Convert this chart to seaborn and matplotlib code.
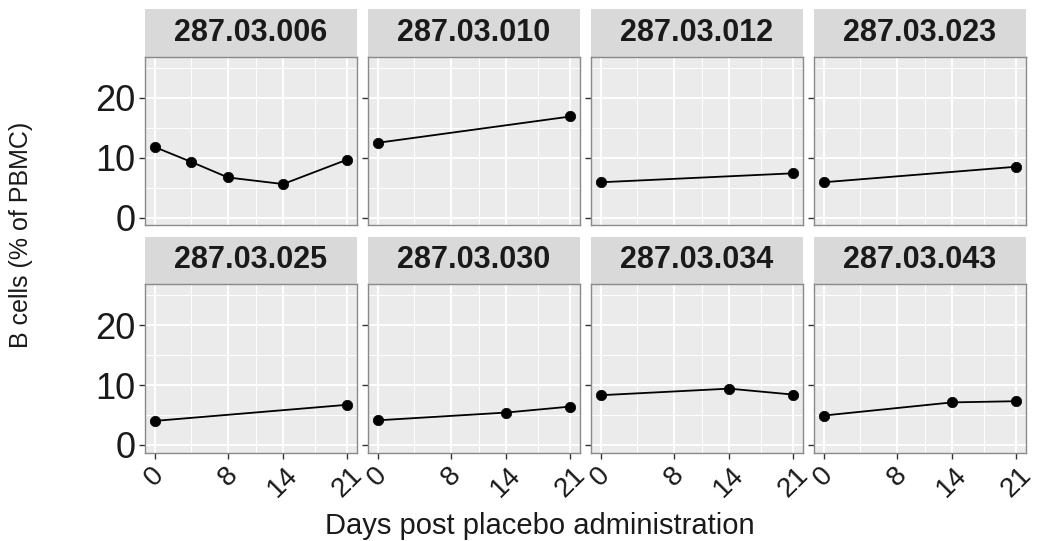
import matplotlib
matplotlib.use("Agg")
import matplotlib.pyplot as plt
from matplotlib.patches import Rectangle
import seaborn as sns
import pandas as pd

# ---- data ----
subjects = ["287.03.006", "287.03.010", "287.03.012", "287.03.023",
            "287.03.025", "287.03.030", "287.03.034", "287.03.043"]
day_006 = [0, 4, 8, 14, 21]
bcell_006 = [11.8, 9.3, 6.7, 5.6, 9.7]
day_010 = [0, 21]
bcell_010 = [12.5, 16.9]
day_012 = [0, 21]
bcell_012 = [5.9, 7.4]
day_023 = [0, 21]
bcell_023 = [5.9, 8.5]
day_025 = [0, 21]
bcell_025 = [4.0, 6.7]
day_030 = [0, 14, 21]
bcell_030 = [4.1, 5.4, 6.4]
day_034 = [0, 14, 21]
bcell_034 = [8.3, 9.4, 8.4]
day_043 = [0, 14, 21]
bcell_043 = [4.9, 7.1, 7.3]
x_ticks = [0, 8, 14, 21]
y_ticks = [0, 10, 20]

days = [day_006, day_010, day_012, day_023, day_025, day_030, day_034, day_043]
vals = [bcell_006, bcell_010, bcell_012, bcell_023, bcell_025, bcell_030, bcell_034, bcell_043]
rows = []
for s, d, v in zip(subjects, days, vals):
    for dd, vv in zip(d, v):
        rows.append({"subject": s, "day": dd, "bcell": vv})
df = pd.DataFrame(rows)

sns.set_theme(style="white")
plt.rcParams["font.family"] = ["Liberation Sans", "DejaVu Sans"]

W, H = 1042, 541
fig = plt.figure(figsize=(W / 100, H / 100), dpi=100)

col_left = [145, 368, 591, 814]
panel_w = 212
row_top = [56.7, 284]
panel_h = 168.5
strip_h = 47.5

for i, s in enumerate(subjects):
    r, c = divmod(i, 4)
    left = col_left[c] / W
    bottom = 1 - (row_top[r] + panel_h) / H
    ax = fig.add_axes([left, bottom, panel_w / W, panel_h / H])
    ax.set_facecolor("#EBEBEB")
    sub = df[df["subject"] == s]
    sns.lineplot(data=sub, x="day", y="bcell", color="black", linewidth=1.3,
                 marker="o", markersize=7.5, markeredgecolor="black",
                 markeredgewidth=0.5, ax=ax, zorder=3)
    ax.set_xlim(-1.05, 22.05)
    ax.set_ylim(-1.28, 26.9)
    ax.set_xticks(x_ticks)
    ax.set_xticks([4, 11, 17.5], minor=True)
    ax.set_yticks(y_ticks)
    ax.set_yticks([5, 15, 25], minor=True)
    ax.grid(which="major", color="white", linewidth=1.4, zorder=0)
    ax.grid(which="minor", color="white", linewidth=0.7, zorder=0)
    ax.set_axisbelow(True)
    ax.tick_params(which="minor", length=0)
    ax.tick_params(which="major", length=4, width=1, color="#333333",
                   direction="out", bottom=(r == 1), left=True, pad=3)
    ax.set_xlabel("")
    ax.set_ylabel("")
    if c == 0:
        ax.set_yticklabels([str(t) for t in y_ticks], fontsize=26, color="#1a1a1a")
    else:
        ax.set_yticklabels([])
    if r == 1:
        ax.set_xticklabels([str(t) for t in x_ticks], fontsize=20, rotation=45,
                           ha="center", va="top", color="#1a1a1a")
    else:
        ax.set_xticklabels([])
        ax.tick_params(bottom=False)
    for sp in ax.spines.values():
        sp.set_color("#8a8a8a")
        sp.set_linewidth(1.0)
    # strip
    sh = strip_h / panel_h
    ax.add_patch(Rectangle((0, 1), 1, sh, transform=ax.transAxes,
                           facecolor="#D9D9D9", edgecolor="none", clip_on=False))
    ax.text(0.5, 1 + sh / 2, s, transform=ax.transAxes, ha="center", va="center",
            fontsize=22, fontweight="bold", color="#1a1a1a")

fig.text(540 / W, 1 - 534 / H, "Days post placebo administration",
         ha="center", va="baseline", fontsize=21, color="#1a1a1a")
fig.text(21 / W, 1 - 235 / H, "B cells (% of PBMC)", rotation=90,
         ha="center", va="center", fontsize=18, color="#1a1a1a")

fig.savefig("out.png", dpi=100, facecolor="white")
